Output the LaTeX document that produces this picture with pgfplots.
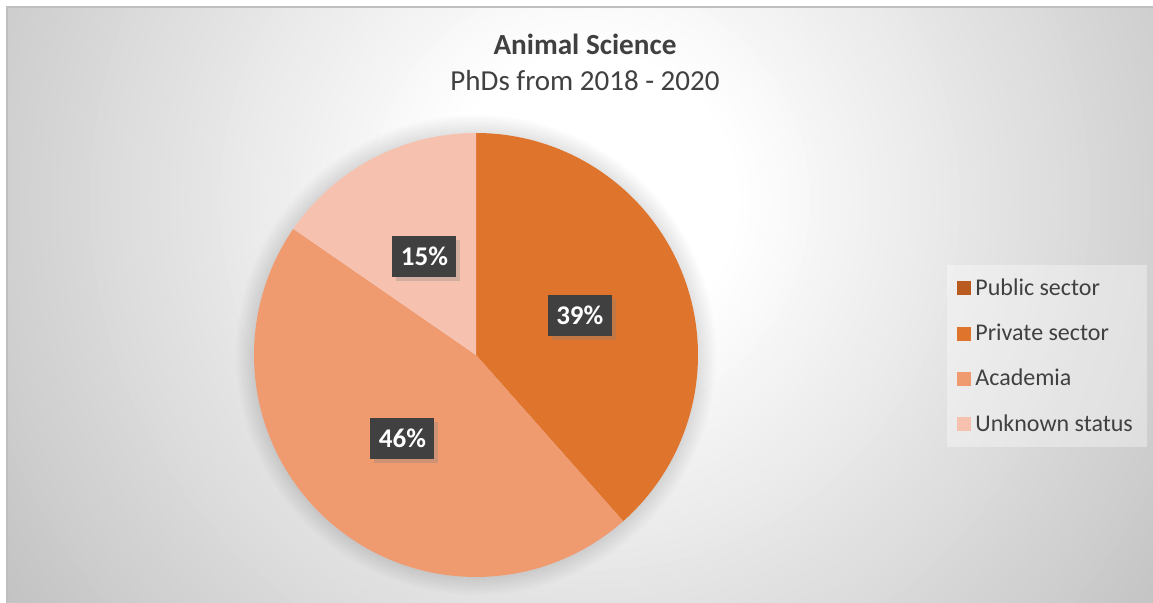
\documentclass[border=0pt]{standalone}
\usepackage{pgfplots}
\pgfplotsset{compat=1.18}
\usepackage{fontspec}
\setmainfont{Carlito}
\usetikzlibrary{shadows}
\definecolor{pubc}{HTML}{B95A1E}
\definecolor{privc}{HTML}{DF742C}
\definecolor{acadc}{HTML}{F09A70}
\definecolor{unkc}{HTML}{F6C2AF}
\definecolor{txt}{HTML}{404040}
\definecolor{lab}{HTML}{404040}
% data: number of PhDs (2018-2020)
\def\nPub{0}
\def\nPriv{5}
\def\nAcad{6}
\def\nUnk{2}
\pgfmathsetmacro\nTot{\nPub+\nPriv+\nAcad+\nUnk}
\pgfmathsetmacro\aA{90}
\pgfmathsetmacro\aB{\aA-360*\nPub/\nTot}
\pgfmathsetmacro\aC{\aB-360*\nPriv/\nTot}
\pgfmathsetmacro\aD{\aC-360*\nAcad/\nTot}
\pgfmathsetmacro\aE{\aD-360*\nUnk/\nTot}
\pgfmathsetmacro\mPriv{(\aB+\aC)/2}
\pgfmathsetmacro\mAcad{(\aC+\aD)/2}
\pgfmathsetmacro\mUnk{(\aD+\aE)/2}
\begin{document}
\begin{tikzpicture}
\useasboundingbox (0,0) rectangle (576.5pt,301.5pt);
\fill[white] (0,0) rectangle (576.5pt,301.5pt);
\foreach \i in {0,...,58} {
  \pgfmathsetmacro\r{730-10*\i}
  \pgfmathsetmacro\p{min(24,max(0,23.5*(\r-150)/560))}
  \fill[black!\p] (295pt,201.5pt) circle ({\r*0.5pt});
}
\fill[white] (-1pt,-1pt) rectangle (3.5pt,303pt);
\fill[white] (-1pt,298pt) rectangle (578pt,303pt);
\draw[black!25, line width=0.6pt] (3.5pt,-1pt) -- (3.5pt,298pt) -- (578pt,298pt);
% soft glow behind the pie
\foreach \k in {1,...,9} {
  \fill[black, opacity=0.011] (238pt,124pt) circle ({(222+2*\k)*0.5pt});
}
\begin{axis}[at={(0,0)}, anchor=south west, scale only axis,
  width=576.5pt, height=301.5pt,
  xmin=0, xmax=1153, ymin=0, ymax=603,
  hide axis, clip=false,
  legend image code/.code={\fill[#1, draw=none, fill opacity=1] (0pt,-3.5pt) rectangle (7pt,3.5pt);},
  legend style={at={(axis cs:947,338)}, anchor=north west, draw=none,
    fill=white, fill opacity=0.35, text opacity=1,
    font=\fontsize{12}{13.5}\selectfont, text=txt,
    inner xsep=5pt, inner ysep=4.5pt, row sep=8.9pt,
    /tikz/every even column/.append style={column sep=4pt},
    cells={anchor=west}},
  legend cell align=left,
]
\addplot[draw=none, fill=privc, domain=\aC:\aB, samples=120, variable=\t, forget plot]
  ({476+222*cos(\t)},{248+222*sin(\t)}) -- (axis cs:476,248) -- cycle;
\addplot[draw=none, fill=acadc, domain=\aD:\aC, samples=140, variable=\t, forget plot]
  ({476+222*cos(\t)},{248+222*sin(\t)}) -- (axis cs:476,248) -- cycle;
\addplot[draw=none, fill=unkc, domain=\aE:\aD, samples=60, variable=\t, forget plot]
  ({476+222*cos(\t)},{248+222*sin(\t)}) -- (axis cs:476,248) -- cycle;

\addlegendimage{fill=pubc}\addlegendentry{Public sector}
\addlegendimage{fill=privc}\addlegendentry{Private sector}
\addlegendimage{fill=acadc}\addlegendentry{Academia}
\addlegendimage{fill=unkc}\addlegendentry{Unknown status}

\tikzset{lbl/.style={fill=lab, text=white, font=\bfseries\fontsize{13.5}{15}\selectfont,
  minimum width=32pt, minimum height=20.5pt, inner sep=0pt,
  drop shadow={opacity=0.3, shadow xshift=2pt, shadow yshift=-2pt}}}
\node[lbl] at (axis cs:{476+111*cos(\mPriv)},{248+111*sin(\mPriv)}) {39\%};
\node[lbl] at (axis cs:{476+111*cos(\mAcad)},{248+111*sin(\mAcad)}) {46\%};
\node[lbl] at (axis cs:{476+111*cos(\mUnk)},{248+111*sin(\mUnk)}) {15\%};

\node[anchor=base, text=txt, font=\bfseries\fontsize{14.6}{16}\selectfont] at (axis cs:585,548) {Animal Science};
\node[anchor=base, text=txt, font=\fontsize{14.5}{16}\selectfont] at (axis cs:585,512) {PhDs from 2018 - 2020};
\end{axis}
\end{tikzpicture}
\end{document}
